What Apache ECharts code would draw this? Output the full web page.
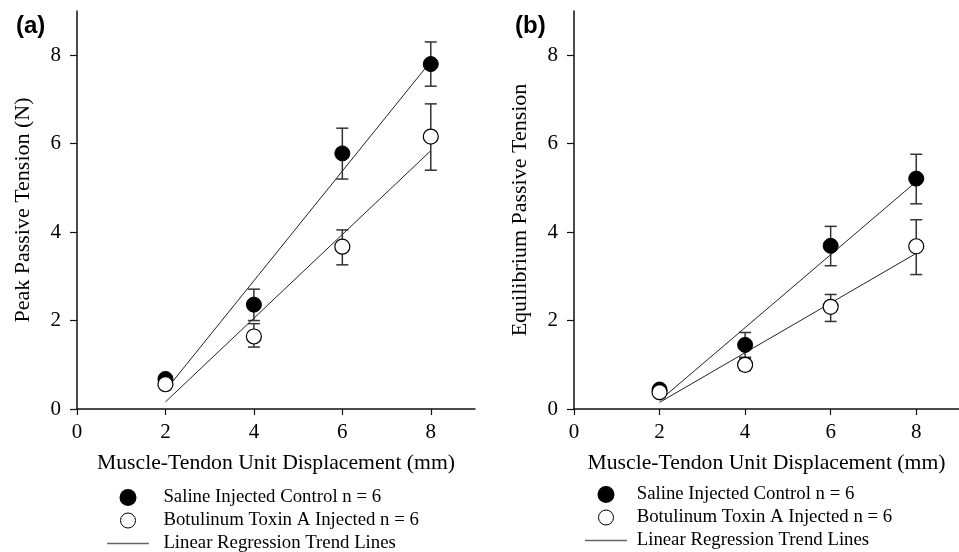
<!DOCTYPE html>
<html>
<head>
<meta charset="utf-8">
<script src="https://cdn.jsdelivr.net/npm/echarts@6/dist/echarts.min.js"></script>
<style>html,body{margin:0;padding:0;background:#fff}#c{width:959px;height:552px}</style>
</head>
<body>
<div id="c"></div>
<script>
// ---- data ----
var displacement = [2, 4, 6, 8];
var xTicks = [0, 2, 4, 6, 8];
var yTicks = [0, 2, 4, 6, 8];

// Panel (a): peak passive tension (N)
var peakSaline = [0.68, 2.36, 5.78, 7.80];
var peakSalineUpper = [0.74, 2.71, 6.35, 8.30];
var peakSalineLower = [0.62, 2.00, 5.20, 7.30];
var peakBotox = [0.56, 1.64, 3.67, 6.16];
var peakBotoxUpper = [0.62, 1.93, 4.05, 6.90];
var peakBotoxLower = [0.50, 1.40, 3.26, 5.40];
var peakSalineTrendX = [2, 8];
var peakSalineTrendY = [0.42, 7.86];
var peakBotoxTrendX = [2, 8];
var peakBotoxTrendY = [0.16, 5.84];

// Panel (b): equilibrium passive tension
var eqSaline = [0.44, 1.45, 3.69, 5.21];
var eqSalineUpper = [0.50, 1.73, 4.13, 5.76];
var eqSalineLower = [0.38, 1.17, 3.24, 4.64];
var eqBotox = [0.38, 1.00, 2.31, 3.68];
var eqBotoxUpper = [0.44, 1.15, 2.59, 4.28];
var eqBotoxLower = [0.32, 0.87, 1.98, 3.04];
var eqSalineTrendX = [2, 8];
var eqSalineTrendY = [0.19, 5.14];
var eqBotoxTrendX = [2, 8];
var eqBotoxTrendY = [0.15, 3.52];

var nameSaline = 'Saline Injected Control n = 6';
var nameBotox = 'Botulinum Toxin A Injected n = 6';
var nameTrend = 'Linear Regression Trend Lines';
var xTitle = 'Muscle-Tendon Unit Displacement (mm)';
var yTitleA = 'Peak Passive Tension (N)';
var yTitleB = 'Equilibrium Passive Tension';

// ---- helpers ----
function zip(xs, ys) { return xs.map(function (x, i) { return [x, ys[i]]; }); }
function zip3(xs, lo, hi) { return xs.map(function (x, i) { return [x, lo[i], hi[i]]; }); }

var serif = 'Liberation Serif';
var axisColor = '#111';

function makeXAxis(idx) {
  return {
    type: 'value', gridIndex: idx, min: 0, max: 9,
    name: xTitle, nameLocation: 'middle', nameGap: 43,
    nameTextStyle: { fontFamily: serif, fontSize: 21.7, color: '#000' },
    axisLine: { show: true, onZero: false, lineStyle: { color: axisColor, width: 1.5 } },
    axisTick: { show: true, length: 6, customValues: xTicks, lineStyle: { color: axisColor, width: 1.2 } },
    axisLabel: { customValues: xTicks, margin: 13, fontFamily: serif, fontSize: 21, color: '#000' },
    splitLine: { show: false }
  };
}
function makeYAxis(idx, title) {
  return {
    type: 'value', gridIndex: idx, min: 0, max: 9,
    name: title, nameLocation: 'middle', nameGap: 43, nameRotate: 90,
    nameTextStyle: { fontFamily: serif, fontSize: 22, color: '#000' },
    axisLine: { show: true, onZero: false, lineStyle: { color: axisColor, width: 1.5 } },
    axisTick: { show: true, length: 7, customValues: yTicks, lineStyle: { color: axisColor, width: 1.2 } },
    axisLabel: { customValues: yTicks, margin: 16, fontFamily: serif, fontSize: 21, color: '#000' },
    splitLine: { show: false }
  };
}

function errorSeries(idx, key, data) {
  return {
    type: 'custom', name: key, xAxisIndex: idx, yAxisIndex: idx,
    data: data, z: 1, silent: true,
    renderItem: function (params, api) {
      var x = api.value(0);
      var lo = api.coord([x, api.value(1)]);
      var hi = api.coord([x, api.value(2)]);
      var hw = 6;
      var st = { stroke: '#333', lineWidth: 1.5 };
      return {
        type: 'group',
        children: [
          { type: 'line', shape: { x1: lo[0], y1: lo[1], x2: hi[0], y2: hi[1] }, style: st },
          { type: 'line', shape: { x1: hi[0] - hw, y1: hi[1], x2: hi[0] + hw, y2: hi[1] }, style: st },
          { type: 'line', shape: { x1: lo[0] - hw, y1: lo[1], x2: lo[0] + hw, y2: lo[1] }, style: st }
        ]
      };
    }
  };
}
function trendSeries(idx, xs, ys) {
  return {
    type: 'line', name: nameTrend, xAxisIndex: idx, yAxisIndex: idx,
    data: zip(xs, ys), symbol: 'none', z: 2, silent: true,
    lineStyle: { color: '#222', width: 1 }
  };
}
function scatterSeries(idx, name, ys, filled) {
  return {
    type: 'scatter', name: name, xAxisIndex: idx, yAxisIndex: idx,
    data: zip(displacement, ys), symbol: 'circle', symbolSize: 15, z: 3,
    itemStyle: filled ? { color: '#000', borderColor: '#000', borderWidth: 1, opacity: 1 }
                      : { color: '#fff', borderColor: '#000', borderWidth: 1.2, opacity: 1 }
  };
}
function makeLegend(left, top, pad) {
  return {
    orient: 'vertical', left: left, top: top, height: 80, width: 380,
    padding: 0,
    itemWidth: 42, itemHeight: 15, itemGap: 4,
    selectedMode: false,
    data: [
      { name: nameSaline, icon: 'circle' },
      { name: nameBotox, icon: 'circle', itemStyle: { borderWidth: 1 } },
      { name: nameTrend, icon: 'path://M0,0L42,0L42,1.5L0,1.5Z',
        itemStyle: { color: '#666', borderWidth: 0 } }
    ],
    formatter: function (n) { return pad + n; },
    textStyle: { fontFamily: serif, fontSize: 18.8, color: '#000' }
  };
}

var chart = echarts.init(document.getElementById('c'), null, { renderer: 'canvas' });
chart.setOption({
  backgroundColor: '#fff',
  animation: false,
  title: [
    { text: '(a)', left: 11, top: 9, textStyle: { fontFamily: 'Liberation Sans', fontWeight: 'bold', fontSize: 24, color: '#000' } },
    { text: '(b)', left: 510, top: 9, textStyle: { fontFamily: 'Liberation Sans', fontWeight: 'bold', fontSize: 24, color: '#000' } }
  ],
  legend: [makeLegend(107, 488, '  '), makeLegend(585, 485, ' ')],
  grid: [
    { left: 77, right: 484, top: 11, bottom: 143 },
    { left: 574, right: -14, top: 11, bottom: 143 }
  ],
  xAxis: [makeXAxis(0), makeXAxis(1)],
  yAxis: [makeYAxis(0, yTitleA), makeYAxis(1, yTitleB)],
  series: [
    errorSeries(0, 'errA1', zip3(displacement, peakSalineLower, peakSalineUpper)),
    errorSeries(0, 'errA2', zip3(displacement, peakBotoxLower, peakBotoxUpper)),
    trendSeries(0, peakSalineTrendX, peakSalineTrendY),
    trendSeries(0, peakBotoxTrendX, peakBotoxTrendY),
    scatterSeries(0, nameSaline, peakSaline, true),
    scatterSeries(0, nameBotox, peakBotox, false),
    errorSeries(1, 'errB1', zip3(displacement, eqSalineLower, eqSalineUpper)),
    errorSeries(1, 'errB2', zip3(displacement, eqBotoxLower, eqBotoxUpper)),
    trendSeries(1, eqSalineTrendX, eqSalineTrendY),
    trendSeries(1, eqBotoxTrendX, eqBotoxTrendY),
    scatterSeries(1, nameSaline, eqSaline, true),
    scatterSeries(1, nameBotox, eqBotox, false)
  ]
});
</script>
</body>
</html>
